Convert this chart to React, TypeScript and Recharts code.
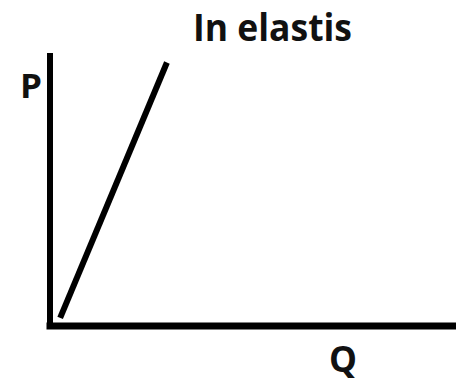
import { LineChart, Line, XAxis, YAxis, ReferenceLine, Customized } from "recharts";

// supply curve points (quantity, price) on a 0–100 scale
const quantity = [2.5, 28.8];
const price = [3, 97.6];

const title = "In elastis";
const yName = "P";
const xName = "Q";

const data = quantity.map((q, i) => ({ q, p: price[i] }));

const labelFont = "'Open Sans', 'DejaVu Sans', sans-serif";

function Labels() {
  return (
    <g fontFamily={labelFont} fontWeight={700} fill="#111">
      <text x={193} y={41} fontSize={38} textLength={159} lengthAdjust="spacingAndGlyphs">
        {title}
      </text>
      <text x={20} y={98} fontSize={34} textLength={22} lengthAdjust="spacingAndGlyphs">
        {yName}
      </text>
      <text x={329} y={372} fontSize={35} textLength={28} lengthAdjust="spacingAndGlyphs">
        {xName}
      </text>
    </g>
  );
}

export default function App() {
  return (
    <div
      style={{
        position: "absolute",
        top: 0,
        left: 0,
        width: 456,
        height: 384,
        overflow: "hidden",
        background: "#fff",
      }}
    >
      <LineChart
        width={456}
        height={384}
        data={data}
        margin={{ top: 56, right: 0, left: 50, bottom: 58 }}
      >
        <XAxis dataKey="q" type="number" domain={[0, 100]} hide />
        <YAxis dataKey="p" type="number" domain={[0, 100]} hide />
        {/* axes drawn as heavy black lines through the origin */}
        <ReferenceLine x={0} stroke="#000" strokeWidth={6} strokeLinecap="square" />
        <ReferenceLine y={0} stroke="#000" strokeWidth={7} strokeLinecap="square" />
        <Line
          dataKey="p"
          stroke="#000"
          strokeWidth={6}
          dot={false}
          isAnimationActive={false}
        />
        <Customized component={Labels} />
      </LineChart>
    </div>
  );
}
